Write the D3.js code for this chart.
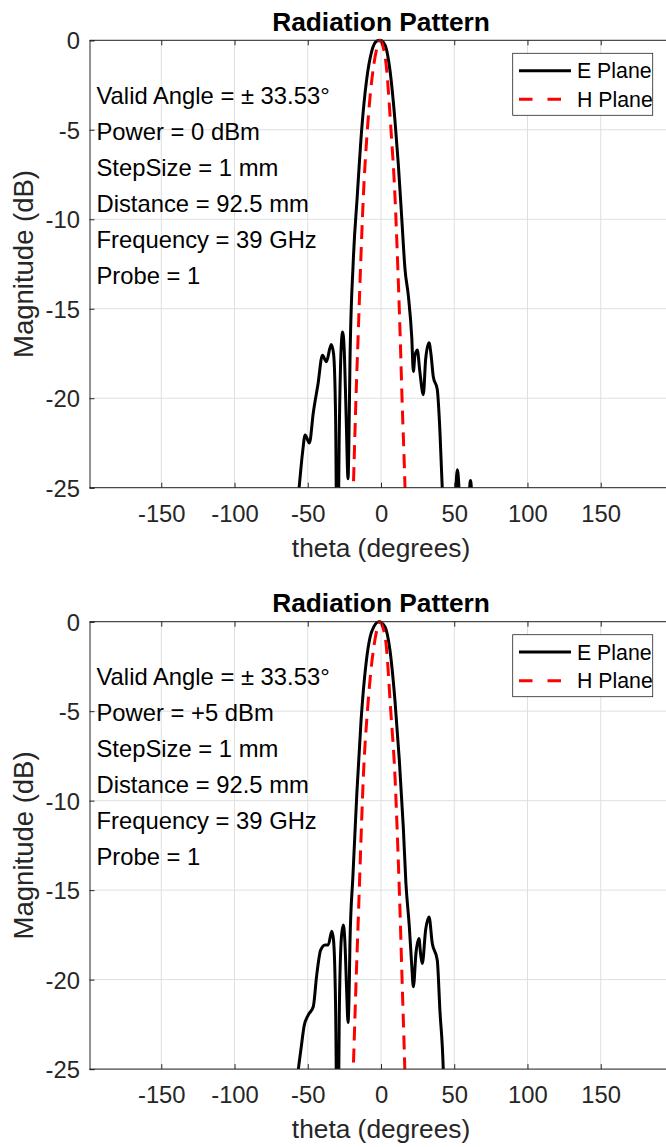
<!DOCTYPE html>
<html>
<head>
<meta charset="utf-8">
<script src="https://cdn.jsdelivr.net/npm/d3@7"></script>
<style>
  html, body { margin: 0; padding: 0; background: #fff; }
  svg { display: block; }
  text { font-family: "Liberation Sans", Arial, Helvetica, sans-serif; }
</style>
</head>
<body>
<script>
// ---- Measured patterns: angle (deg) and magnitude (dB) ----
// Panel 1: 0 dBm input power
const ePlane1Theta = [-62, -55.9, -53.5, -51.8, -48.9, -46.2, -43.0, -40.0, -37.3, -34.0, -32.4, -31.0, -29.8, -28.5, -27.2, -26.2, -25.0, -23.8, -22.5, -21.6, -21.2, -19.0, -16.2, -13.2, -9.8, -6.4, -3.0, -0.7, 2.7, 6.1, 9.5, 11.8, 14.1, 16.4, 18.7, 21.0, 22.1, 23.2, 24.8, 26.5, 28.9, 30.5, 32.8, 34.2, 35.7, 38.4, 40.2, 41.8, 43.5, 50.0, 51.0, 52.1, 53.3, 54.5, 59.5, 60.4, 61.1, 61.8, 63.0, 70.0];
const ePlane1Mag   = [-30, -25.0, -23.0, -22.05, -22.5, -20.8, -19.2, -17.6, -17.96, -17.0, -17.5, -21.0, -32.0, -22.0, -17.2, -16.3, -17.5, -21.0, -24.5, -20.5, -18.05, -12.46, -8.7, -5.0, -2.2, -0.63, -0.05, 0, -0.26, -1.66, -4.45, -6.9, -9.85, -12.8, -14.3, -16.6, -18.5, -17.6, -17.3, -18.5, -19.8, -17.8, -16.9, -17.6, -18.8, -19.5, -21.8, -25.0, -30.0, -30.0, -25.6, -24.0, -25.2, -30.0, -30.0, -25.2, -24.6, -25.2, -30.0, -30.0];
const hPlane1Theta = [-22.0, -18.87, -17.05, -15.46, -13.87, -12.05, -9.32, -4.78, -2.5, -0.7, 1.2, 3.41, 6.82, 9.55, 11.37, 12.96, 14.32, 16.37, 18.5];
const hPlane1Mag   = [-32.0, -24.94, -19.91, -16.18, -12.46, -8.73, -5.01, -1.29, -0.35, 0, -0.3, -1.29, -5.01, -8.73, -12.46, -16.18, -19.91, -24.94, -32.0];

// Panel 2: +5 dBm input power
const ePlane2Theta = [-62, -56.4, -54.5, -52.5, -49.6, -46.2, -44.0, -41.2, -38.2, -36.0, -33.6, -32.4, -31.0, -29.6, -28.5, -27.0, -25.7, -24.6, -23.5, -22.5, -21.6, -21.2, -19.2, -16.5, -13.6, -10.2, -6.4, -1.4, 2.7, 6.1, 9.5, 12.5, 15.2, 17.0, 19.3, 20.9, 22.1, 23.9, 25.9, 27.1, 28.2, 30.5, 32.8, 35.0, 38.4, 40.2, 42.5, 44.0, 50.0];
const ePlane2Mag   = [-30, -25.0, -23.8, -22.6, -21.97, -21.5, -19.83, -18.35, -18.06, -18.06, -17.3, -17.8, -21.5, -32.0, -22.0, -17.6, -16.95, -17.97, -20.5, -22.4, -20.0, -17.97, -14.25, -9.6, -5.5, -2.33, -0.56, 0, -0.28, -1.58, -4.37, -7.72, -11.45, -14.6, -17.0, -19.1, -20.4, -18.5, -17.7, -18.6, -19.1, -17.2, -16.5, -17.97, -18.9, -21.7, -25.0, -30.0, -30.0];
const hPlane2Theta = [-22.0, -18.87, -16.9, -15.3, -13.75, -12.05, -9.2, -4.55, -2.4, -0.7, 1.2, 3.41, 6.6, 9.55, 11.37, 12.96, 14.32, 16.2, 18.3];
const hPlane2Mag   = [-32.0, -24.86, -19.83, -16.11, -12.38, -8.66, -4.93, -1.21, -0.33, 0, -0.3, -1.21, -4.93, -8.66, -12.38, -16.11, -19.83, -24.86, -32.0];

// Axis ticks and labels
const thetaTicks = [-150, -100, -50, 0, 50, 100, 150];
const magTicks = [0, -5, -10, -15, -20, -25];
const legendLabels = ["E Plane", "H Plane"];
const chartTitle = "Radiation Pattern";
const xTitle = "theta (degrees)";
const yTitle = "Magnitude (dB)";
const notes1 = ["Valid Angle = \u00b1 33.53\u00b0", "Power = 0 dBm", "StepSize = 1 mm", "Distance = 92.5 mm", "Frequency = 39 GHz", "Probe = 1"];
const notes2 = ["Valid Angle = \u00b1 33.53\u00b0", "Power = +5 dBm", "StepSize = 1 mm", "Distance = 92.5 mm", "Frequency = 39 GHz", "Probe = 1"];

// ---- Layout ----
const W = 666, H = 1147;
const plotLeft = 89.5, plotRight = 672.5, plotH = 447.4;
const axisColor = "#262626";
const tickFont = 23.8;
const plainNumber = d => String(d); // ASCII hyphen for negatives

const svg = d3.select("body").append("svg")
  .attr("width", W).attr("height", H)
  .attr("viewBox", `0 0 ${W} ${H}`);

const x = d3.scaleLinear().domain([-199, 199]).range([plotLeft, plotRight]);

const panels = [
  { top: 40.3, e: [ePlane1Theta, ePlane1Mag], h: [hPlane1Theta, hPlane1Mag], notes: notes1 },
  { top: 621.7, e: [ePlane2Theta, ePlane2Mag], h: [hPlane2Theta, hPlane2Mag], notes: notes2 }
];

panels.forEach((p, idx) => {
  const y = d3.scaleLinear().domain([-25, 0]).range([p.top + plotH, p.top]);
  const g = svg.append("g");
  const bottom = p.top + plotH;

  // Grid
  const grid = g.append("g").attr("class", "grid");
  grid.selectAll("line.gx").data(thetaTicks).join("line")
    .attr("x1", d => x(d)).attr("x2", d => x(d))
    .attr("y1", p.top).attr("y2", bottom)
    .attr("stroke", "#dfdfdf").attr("stroke-width", 1);
  grid.selectAll("line.gy").data(magTicks).join("line")
    .attr("x1", plotLeft).attr("x2", plotRight)
    .attr("y1", d => y(d)).attr("y2", d => y(d))
    .attr("stroke", "#dfdfdf").attr("stroke-width", 1);

  // Clip region for the traces
  const clipId = "clip" + idx;
  svg.append("clipPath").attr("id", clipId).append("rect")
    .attr("x", plotLeft).attr("y", p.top - 2)
    .attr("width", plotRight - plotLeft).attr("height", plotH + 2);

  const line = d3.line()
    .x(d => x(d[0])).y(d => y(d[1]))
    .curve(d3.curveMonotoneX);

  const ePts = d3.zip(p.e[0], p.e[1]);
  const hPts = d3.zip(p.h[0], p.h[1]);

  const traces = g.append("g").attr("clip-path", `url(#${clipId})`);
  traces.append("path").datum(ePts)
    .attr("d", line).attr("fill", "none")
    .attr("stroke", "#000").attr("stroke-width", 3)
    .attr("stroke-linejoin", "round");
  traces.append("path").datum(hPts)
    .attr("d", line).attr("fill", "none")
    .attr("stroke", "#ff0000").attr("stroke-width", 3)
    .attr("stroke-dasharray", "14,8");

  // Axes
  const xAxis = d3.axisBottom(x).tickValues(thetaTicks).tickSize(-5).tickPadding(0).tickFormat(plainNumber);
  const xg = g.append("g").attr("transform", `translate(0,${bottom})`).call(xAxis);
  xg.select(".domain").attr("d", `M${plotLeft},0H${plotRight}`);
  xg.selectAll("text").attr("y", 34).attr("dy", null)
    .attr("font-size", tickFont).attr("fill", axisColor);

  const xTop = d3.axisTop(x).tickValues(thetaTicks).tickSize(-5).tickFormat("");
  const xtg = g.append("g").attr("transform", `translate(0,${p.top})`).call(xTop);
  xtg.select(".domain").attr("d", `M${plotLeft},0H${plotRight}`);

  const yAxis = d3.axisLeft(y).tickValues(magTicks).tickSize(-5).tickPadding(9.5).tickFormat(plainNumber);
  const yg = g.append("g").attr("transform", `translate(${plotLeft},0)`).call(yAxis);
  yg.selectAll("text").attr("font-size", tickFont).attr("fill", axisColor).attr("dy", "0.36em");

  g.selectAll(".domain").attr("stroke", axisColor).attr("stroke-width", 1);
  g.selectAll(".tick line").attr("stroke", axisColor).attr("stroke-width", 1);

  // Title and axis labels
  g.append("text").attr("x", x(0)).attr("y", p.top - 9.5)
    .attr("text-anchor", "middle").attr("font-size", 26.3).attr("font-weight", "bold")
    .attr("fill", "#000").text(chartTitle);
  g.append("text").attr("x", x(0)).attr("y", bottom + 69)
    .attr("text-anchor", "middle").attr("font-size", 26.3)
    .attr("fill", axisColor).text(xTitle);
  g.append("text")
    .attr("transform", `translate(33,${p.top + plotH / 2}) rotate(-90)`)
    .attr("text-anchor", "middle").attr("font-size", 27.5)
    .attr("fill", axisColor).text(yTitle);

  // Measurement notes
  g.append("g").selectAll("text").data(p.notes).join("text")
    .attr("x", 96.5).attr("y", (d, i) => p.top + 63.7 + i * 36)
    .attr("font-size", tickFont).attr("fill", "#000").text(d => d);

  // Legend
  const lg = g.append("g");
  lg.append("rect").attr("x", 512.7).attr("y", p.top + 13)
    .attr("width", 140).attr("height", 62)
    .attr("fill", "#fff").attr("stroke", axisColor).attr("stroke-width", 0.8);
  const rows = [
    { label: legendLabels[0], color: "#000", dash: null, dy: 30.4 },
    { label: legendLabels[1], color: "#ff0000", dash: "13.5,15", dy: 59 }
  ];
  rows.forEach(r => {
    lg.append("line").attr("x1", 519).attr("x2", 571)
      .attr("y1", p.top + r.dy).attr("y2", p.top + r.dy)
      .attr("stroke", r.color).attr("stroke-width", 3)
      .attr("stroke-dasharray", r.dash);
    lg.append("text").attr("x", 577).attr("y", p.top + r.dy + 7.6)
      .attr("font-size", 21.3).attr("fill", "#000").text(r.label);
  });
});
</script>
</body>
</html>
